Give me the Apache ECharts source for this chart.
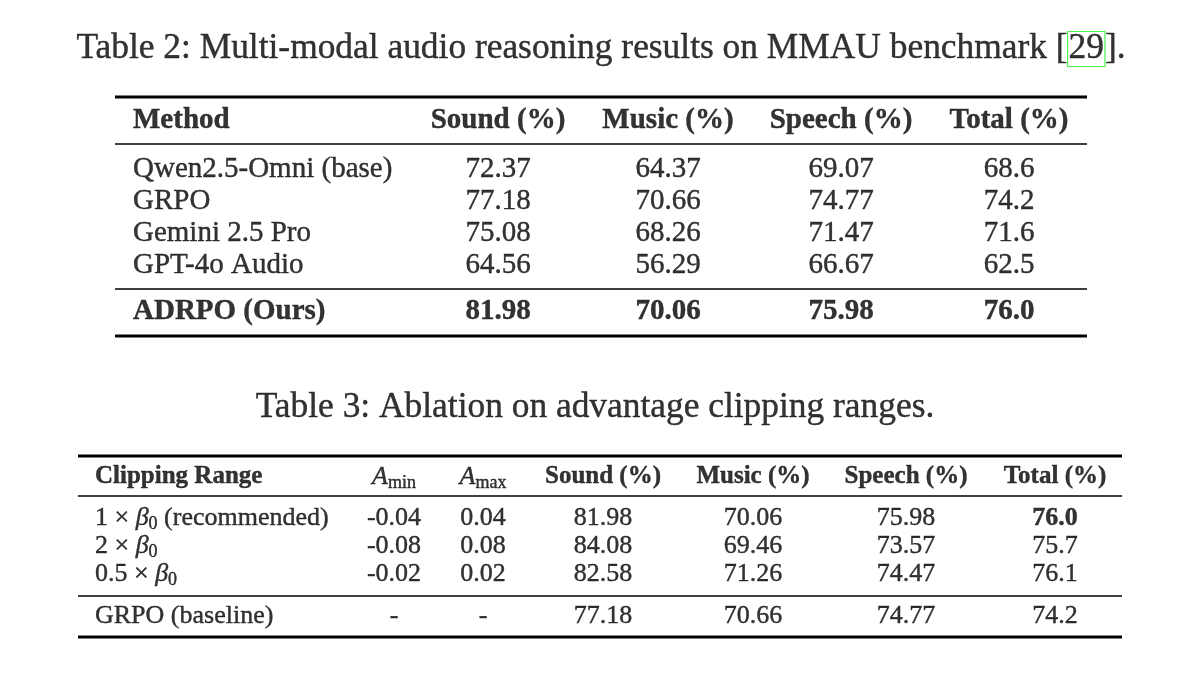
<!DOCTYPE html>
<html>
<head>
<meta charset="utf-8">
<script src="https://cdn.jsdelivr.net/npm/echarts@6/dist/echarts.min.js"></script>
<style>html,body{margin:0;padding:0;background:#fff;}#c{width:1200px;height:673px;}</style>
</head>
<body>
<div id="c"></div>
<script>
// ---------- data ----------
const t2Caption = 'Table 2: Multi-modal audio reasoning results on MMAU benchmark ';
const t2Cite = '29';
const t2Headers = ['Method', 'Sound (%)', 'Music (%)', 'Speech (%)', 'Total (%)'];
const t2Methods = ['Qwen2.5-Omni (base)', 'GRPO', 'Gemini 2.5 Pro', 'GPT-4o Audio', 'ADRPO (Ours)'];
const t2Sound  = [72.37, 77.18, 75.08, 64.56, 81.98];
const t2Music  = [64.37, 70.66, 68.26, 56.29, 70.06];
const t2Speech = [69.07, 74.77, 71.47, 66.67, 75.98];
const t2Total  = [68.6, 74.2, 71.6, 62.5, 76.0];
const t2BoldRow = 4;

const t3Caption = 'Table 3: Ablation on advantage clipping ranges.';
const t3Headers = ['Clipping Range', 'A|min', 'A|max', 'Sound (%)', 'Music (%)', 'Speech (%)', 'Total (%)'];
const t3Ranges = ['1|(recommended)', '2|', '0.5|', 'GRPO (baseline)'];
const t3Amin   = [-0.04, -0.08, -0.02, null];
const t3Amax   = [0.04, 0.08, 0.02, null];
const t3Sound  = [81.98, 84.08, 82.58, 77.18];
const t3Music  = [70.06, 69.46, 71.26, 70.66];
const t3Speech = [75.98, 73.57, 74.47, 74.77];
const t3Total  = [76.0, 75.7, 76.1, 74.2];
const t3BoldTotalRow = 0;

// ---------- layout ----------
const FONT = '"Liberation Serif", "Times New Roman", serif';
const L2 = { cap: [601, 49], colX: [133, 498, 668, 841, 1009], align: ['left','center','center','center','center'],
  headY: 121, rowY: [169, 201, 233, 265, 312], rules: [[97, 2.8], [144, 1.6], [289, 1.6], [336, 2.8]], x0: 115, x1: 1087,
  fs: 29, capFs: 35.4 };
const L3 = { cap: [595, 408], colX: [95, 394, 483, 603, 753, 906, 1055], align: ['left','center','center','center','center','center','center'],
  headY: 477, rowY: [518, 546, 574, 616], rules: [[456, 2.8], [496, 1.6], [596, 1.6], [637, 2.8]], x0: 78, x1: 1122,
  fs: 26, hfs: 25, capFs: 35.2 };

function fmt(v, d) { return v === null ? '-' : v.toFixed(d); }

const texts = [];
function addText(x, y, text, align) { texts.push({ value: [x, y], label: { formatter: text, align: align } }); }

// Table 2
texts.push({ value: L2.cap, label: { formatter: '{cap|' + t2Caption + '[}{cite|' + t2Cite + '}{cap|].}', align: 'center' } });
t2Headers.forEach((h, j) => addText(L2.colX[j], L2.headY, '{hb|' + h + '}', L2.align[j]));
const t2Cols = [t2Methods, t2Sound, t2Music, t2Speech, t2Total];
const t2Dec = [0, 2, 2, 2, 1];
t2Methods.forEach((m, i) => {
  t2Cols.forEach((col, j) => {
    const s = j === 0 ? col[i] : fmt(col[i], t2Dec[j]);
    const key = i === t2BoldRow ? 'b2' : 'n2';
    addText(L2.colX[j], L2.rowY[i], '{' + key + '|' + s + '}', L2.align[j]);
  });
});

// Table 3
texts.push({ value: L3.cap, label: { formatter: '{cap|' + t3Caption + '}', align: 'center' } });
t3Headers.forEach((h, j) => {
  let s;
  if (h.indexOf('|') >= 0) { const p = h.split('|'); s = '{mi3|' + p[0] + '}{sub3|' + p[1] + '}'; }
  else s = '{hb3|' + h + '}';
  addText(L3.colX[j], L3.headY, s, L3.align[j]);
});
const t3Cols = [t3Ranges, t3Amin, t3Amax, t3Sound, t3Music, t3Speech, t3Total];
const t3Dec = [0, 2, 2, 2, 2, 2, 1];
t3Ranges.forEach((r, i) => {
  t3Cols.forEach((col, j) => {
    let s;
    if (j === 0) {
      if (r.indexOf('|') >= 0) {
        const p = r.split('|');
        s = '{n3|' + p[0] + ' × }{mi3|β}{sub3|0}' + (p[1] ? '{n3| ' + p[1] + '}' : '');
      } else s = '{n3|' + r + '}';
    } else {
      const key = (j === 6 && i === t3BoldTotalRow) ? 'b3' : 'n3';
      s = '{' + key + '|' + fmt(col[i], t3Dec[j]) + '}';
    }
    addText(L3.colX[j], L3.rowY[i], s, L3.align[j]);
  });
});

const base = { fontFamily: FONT, color: '#000', textBorderColor: '#000', textBorderWidth: 0.4 };
const rich = {
  cap:  Object.assign({}, base, { fontSize: L2.capFs, lineHeight: 40 }),
  cite: Object.assign({}, base, { fontSize: L2.capFs, lineHeight: 40, borderColor: '#22ee22', borderWidth: 1.2, padding: [0, 1, 0, 1] }),
  hb:   Object.assign({}, base, { fontSize: L2.fs, fontWeight: 'bold', lineHeight: 34 }),
  n2:   Object.assign({}, base, { fontSize: L2.fs, lineHeight: 34 }),
  b2:   Object.assign({}, base, { fontSize: L2.fs, fontWeight: 'bold', lineHeight: 34 }),
  hb3:  Object.assign({}, base, { fontSize: L3.hfs, fontWeight: 'bold', lineHeight: 30 }),
  n3:   Object.assign({}, base, { fontSize: L3.fs, lineHeight: 30 }),
  b3:   Object.assign({}, base, { fontSize: L3.fs, fontWeight: 'bold', lineHeight: 30 }),
  mi3:  Object.assign({}, base, { fontSize: L3.fs, fontStyle: 'italic', lineHeight: 30 }),
  sub3: Object.assign({}, base, { fontSize: 18, lineHeight: 15, verticalAlign: 'bottom' })
};

const ruleSeries = [];
[L2, L3].forEach(L => L.rules.forEach(([y, w]) => {
  ruleSeries.push({ type: 'line', data: [[L.x0, y], [L.x1, y]], symbol: 'none', silent: true,
    lineStyle: { color: '#000', width: w }, animation: false });
}));

const chart = echarts.init(document.getElementById('c'));
chart.setOption({
  animation: false,
  backgroundColor: '#fff',
  grid: { left: 0, right: 0, top: 0, bottom: 0 },
  xAxis: { type: 'value', min: 0, max: 1200, show: false },
  yAxis: { type: 'value', min: 0, max: 673, inverse: true, show: false },
  series: ruleSeries.concat([{
    type: 'scatter', symbolSize: 0, silent: true, data: texts,
    label: { show: true, position: 'inside', verticalAlign: 'middle', color: '#000', rich: rich }
  }])
});
</script>
</body>
</html>
